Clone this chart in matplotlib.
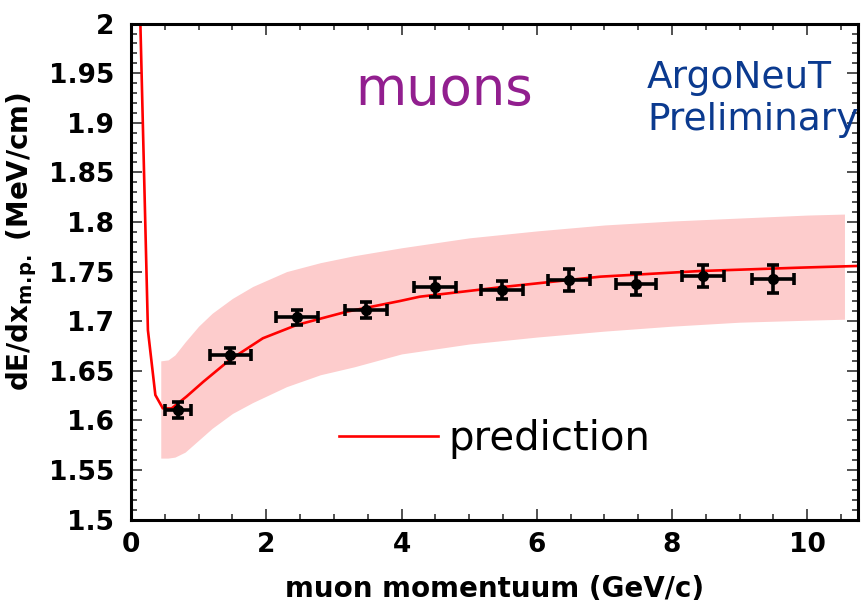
import matplotlib
matplotlib.use("Agg")
import matplotlib.pyplot as plt
from matplotlib.ticker import MultipleLocator, FuncFormatter

plt.rcParams["font.family"] = ["DejaVu Sans"]
plt.rcParams["mathtext.fontset"] = "dejavusans"

# measured most-probable dE/dx per momentum bin
mom = [0.70, 1.47, 2.46, 3.47, 4.49, 5.48, 6.47, 7.47, 8.46, 9.49]
mom_err = [0.19, 0.30, 0.31, 0.31, 0.31, 0.31, 0.31, 0.30, 0.31, 0.31]
dedx = [1.6105, 1.6656, 1.7040, 1.7116, 1.7342, 1.7315, 1.7415, 1.7378, 1.7456, 1.7428]
dedx_err = [0.0084, 0.0076, 0.0076, 0.0080, 0.0096, 0.0094, 0.0110, 0.0110, 0.0114, 0.0140]

# predicted curve
pred_x = [0.135, 0.25, 0.36, 0.47, 0.60, 0.82, 1.07, 1.46, 1.95, 2.45, 3.19,
          3.98, 4.27, 5.46, 6.94, 8.42, 9.90, 10.75]
pred_y = [2.010, 1.691, 1.6256, 1.6122, 1.612, 1.624, 1.639, 1.661, 1.6828,
          1.6962, 1.7096, 1.7204, 1.7247, 1.7342, 1.7449, 1.7506, 1.7540, 1.7557]

# uncertainty band on the prediction
band_x = [0.44, 0.55, 0.65, 0.80, 1.00, 1.20, 1.50, 1.80, 2.30, 2.80, 3.30,
          4.00, 5.00, 6.00, 7.00, 8.00, 9.00, 10.00, 10.55]
band_hi = [1.660, 1.661, 1.666, 1.679, 1.695, 1.708, 1.723, 1.735, 1.750, 1.759,
           1.766, 1.774, 1.784, 1.791, 1.797, 1.801, 1.804, 1.807, 1.808]
band_lo = [1.562, 1.562, 1.563, 1.568, 1.580, 1.592, 1.607, 1.618, 1.634, 1.646,
           1.654, 1.667, 1.677, 1.684, 1.690, 1.695, 1.699, 1.701, 1.702]

fig = plt.figure(figsize=(8.63, 6.07), dpi=100)
ax = fig.add_axes([0.1518, 0.144, 0.8424, 0.8171])

ax.fill_between(band_x, band_lo, band_hi, color="#fdcccc", lw=0, zorder=1)
ax.plot(pred_x, pred_y, color="#ff0000", lw=1.9, zorder=2, label="prediction")
ax.errorbar(mom, dedx, xerr=mom_err, yerr=dedx_err, fmt="o", color="black",
            ms=7, elinewidth=2.6, capsize=4, capthick=2.6, zorder=3)

ax.set_xlim(0, 10.75)
ax.set_ylim(1.5, 2.0)

ax.xaxis.set_major_locator(MultipleLocator(2))
ax.xaxis.set_minor_locator(MultipleLocator(0.5))
ax.yaxis.set_major_locator(MultipleLocator(0.05))
ax.yaxis.set_minor_locator(MultipleLocator(0.01))
fmt = FuncFormatter(lambda v, p: "%g" % round(v, 2))
ax.xaxis.set_major_formatter(fmt)
ax.yaxis.set_major_formatter(fmt)

ax.tick_params(which="both", direction="in", top=True, right=True, width=1.2, color="#333333")
ax.tick_params(which="major", length=8)
ax.tick_params(which="minor", length=4.5)
ax.tick_params(axis="x", which="major", pad=9, labelsize=19)
ax.tick_params(axis="y", which="major", pad=12, labelsize=19)
for lab in ax.get_xticklabels() + ax.get_yticklabels():
    lab.set_fontweight("bold")

for sp in ax.spines.values():
    sp.set_linewidth(2.2)

ax.set_xlabel("muon momentuum (GeV/c)", fontsize=20, fontweight="bold")
ax.xaxis.set_label_coords(0.5, -0.112)
ax.set_ylabel(r"dE/dx$_{\bf m.\!p.}$ (MeV/cm)", fontsize=20, fontweight="bold")
ax.yaxis.set_label_coords(-0.126, 0.56)

ax.text(0.308, 0.836, "muons", transform=ax.transAxes, fontsize=38,
        color="#921f8f", va="baseline", ha="left")
ax.text(0.710, 0.870, "ArgoNeuT", transform=ax.transAxes, fontsize=27,
        color="#0b3a8f", va="baseline", ha="left", zorder=10)
ax.text(0.710, 0.785, "Preliminary", transform=ax.transAxes, fontsize=27,
        color="#0b3a8f", va="baseline", ha="left", zorder=10)

leg = ax.legend(loc="center left", bbox_to_anchor=(0.2865, 0.163), frameon=False,
                fontsize=29, handlelength=2.45, handletextpad=0.25, borderpad=0,
                borderaxespad=0)

fig.savefig("out.png", dpi=100)
